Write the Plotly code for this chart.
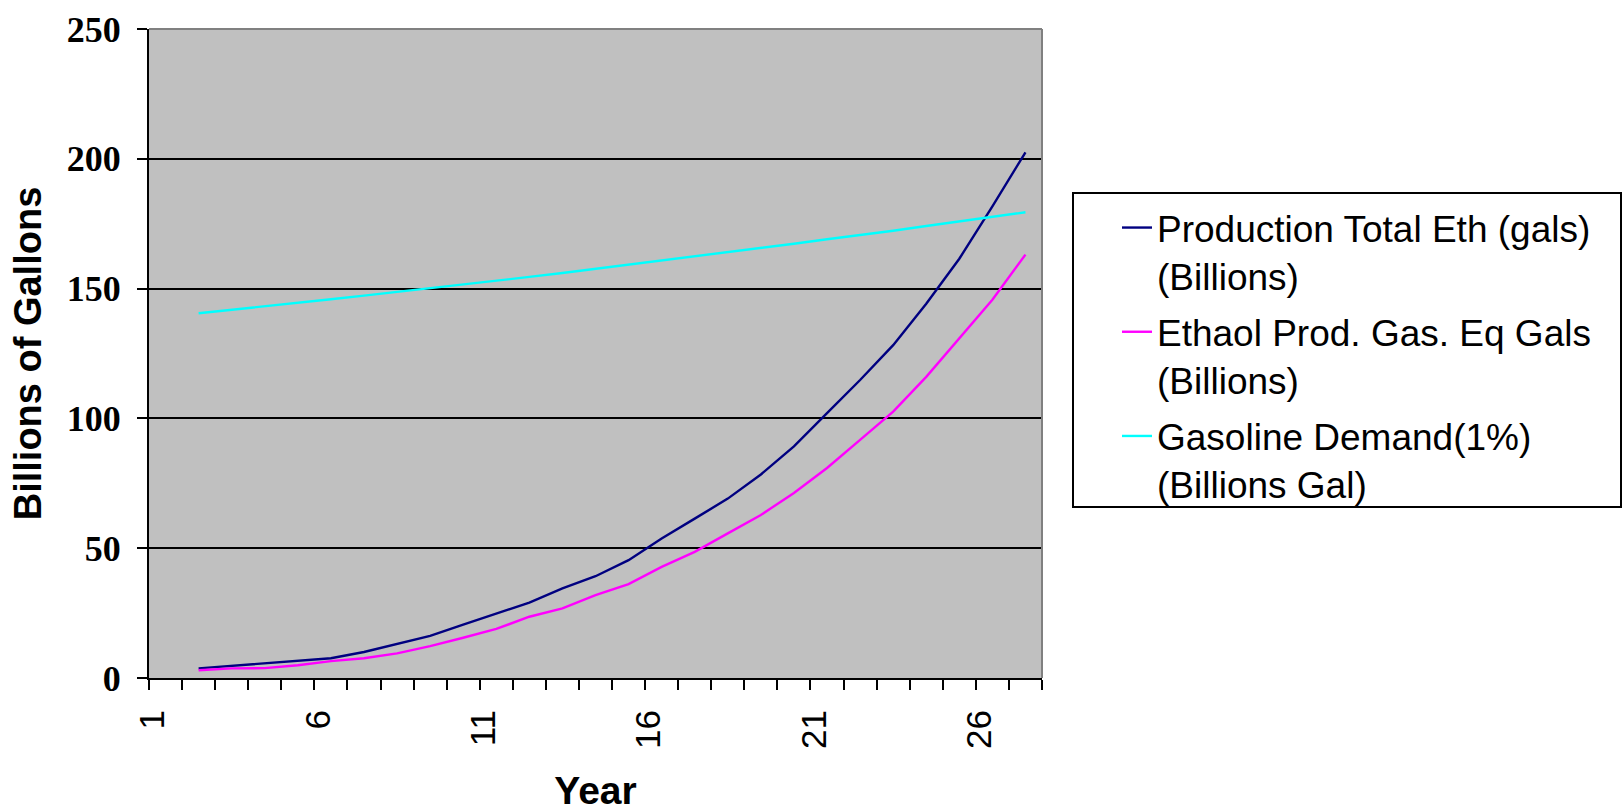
import plotly.graph_objects as go

# Period index of each plotted value (period 1 has no data)
periods = list(range(2, 28))

# Axis labels: every fifth period is labelled
period_labels = [str(p) for p in range(1, 29)]

production_total = [3.7, 4.7, 5.6, 6.5, 7.6, 10.0, 13.0, 16.2, 20.6, 24.7,
                     29.0, 34.5, 39.2, 45.4, 53.7, 61.4, 69.1, 78.4, 89.2, 102.0,
                     114.8, 128.2, 144.2, 161.5, 181.7, 202.5]
ethanol_gas_eq = [3.0, 3.7, 3.8, 4.9, 6.5, 7.6, 9.5, 12.3, 15.5, 18.9,
                  23.6, 26.8, 31.9, 36.2, 42.8, 48.6, 55.7, 62.8, 71.3, 80.9,
                  91.7, 102.6, 116.0, 131.0, 145.7, 163.1]
gasoline_demand = [140.5, 141.8, 143.1, 144.5, 145.9, 147.3, 148.7, 150.1, 151.5, 153.0,
                   154.5, 156.0, 157.6, 159.2, 160.8, 162.3, 164.0, 165.6, 167.3, 169.0,
                   170.6, 172.3, 174.1, 175.8, 177.6, 179.4]

series = [
    ("Production Total Eth (gals)<br>(Billions)", production_total, "#000080"),
    ("Ethaol Prod. Gas. Eq Gals<br>(Billions)", ethanol_gas_eq, "#FF00FF"),
    ("Gasoline Demand(1%)<br>(Billions Gal)", gasoline_demand, "#00FFFF"),
]

fig = go.Figure()
for i, (name, vals, color) in enumerate(series):
    fig.add_trace(go.Scatter(
        x=periods, y=vals, name=name, mode="lines",
        line=dict(color=color, width=2.4),
        legendgroup=f"g{i}",
    ))

# category boundaries carry the ticks; labels sit on every fifth boundary
tick_pos = [p - 0.5 for p in range(1, 29)]
tick_text = [lab if (int(lab) - 1) % 5 == 0 else "" for lab in period_labels]

# plot area in pixels, used to place the legend frame
W, H = 1623, 812
L, R, T, B = 149, 581, 29, 134
pw, ph = W - L - R, H - T - B


def px_x(x):
    return (x - L) / pw


def px_y(y):
    return (H - B - y) / ph


fig.update_layout(
    width=W, height=H,
    margin=dict(l=L, r=R, t=T, b=B, autoexpand=False),
    paper_bgcolor="white",
    plot_bgcolor="#C0C0C0",
    showlegend=True,
    legend=dict(
        x=px_x(1117), y=px_y(197), xanchor="left", yanchor="top",
        bgcolor="rgba(0,0,0,0)", borderwidth=0,
        font=dict(family="Liberation Sans, Arial", size=37, color="black"),
        valign="top", tracegroupgap=5,
    ),
    xaxis=dict(
        range=[0.5, 27.5], tickmode="array", tickvals=tick_pos, ticktext=tick_text,
        tickangle=-90, ticks="outside", ticklen=10, tickwidth=2, tickcolor="black",
        ticklabelstandoff=6, ticklabelshift=4,
        showline=True, linecolor="black", linewidth=2, showgrid=False, zeroline=False,
        tickfont=dict(family="Liberation Sans, Arial", size=35, color="black"),
        title=dict(text="<b>Year</b>", standoff=42,
                   font=dict(family="Liberation Sans, Arial", size=39, color="black")),
    ),
    yaxis=dict(
        range=[0, 250], tickmode="linear", tick0=0, dtick=50,
        ticks="outside", ticklen=10, tickwidth=2, tickcolor="black",
        ticklabelstandoff=9,
        showline=True, linecolor="black", linewidth=2,
        showgrid=True, gridcolor="black", gridwidth=2, zeroline=False,
        tickfont=dict(family="Liberation Serif, Times New Roman", size=36,
                      color="black", weight="bold"),
        title=dict(text="<b>Billions of Gallons</b>", standoff=13,
                   font=dict(family="Liberation Sans, Arial", size=38, color="black")),
    ),
    shapes=[
        dict(type="line", xref="paper", yref="paper", x0=0, x1=1, y0=1, y1=1,
             line=dict(color="#808080", width=2), layer="above"),
        dict(type="line", xref="paper", yref="paper", x0=1, x1=1, y0=0, y1=1,
             line=dict(color="#808080", width=2), layer="above"),
        # legend frame
        dict(type="rect", xref="paper", yref="paper",
             x0=px_x(1073), x1=px_x(1621), y0=px_y(507), y1=px_y(193),
             line=dict(color="black", width=2), fillcolor="white", layer="below"),
    ],
)

fig.write_html("out.html")
